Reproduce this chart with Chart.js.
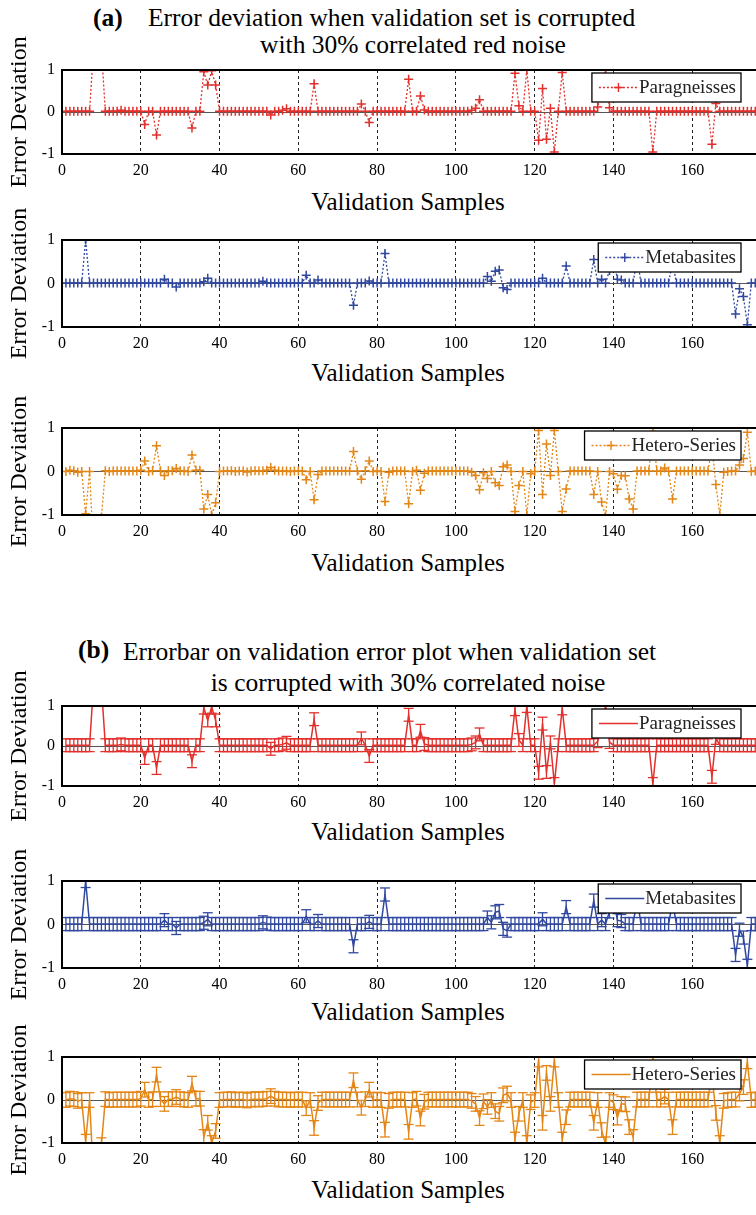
<!DOCTYPE html>
<html>
<head>
<meta charset="utf-8">
<script src="https://cdn.jsdelivr.net/npm/chart.js@4.4.1/dist/chart.umd.min.js"></script>
<style>
  html, body { margin: 0; padding: 0; background: #fff; overflow: hidden; }
  body { width: 756px; height: 1215px; position: relative; font-family: "Liberation Serif", "Times New Roman", serif; color: #000; }
  canvas { position: absolute; left: 0; }
  .ttl { position: absolute; white-space: nowrap; font-size: 25.5px; line-height: 30px; }
  .ctr { position: absolute; width: 600px; text-align: center; white-space: nowrap; }
  .ttl2 { font-size: 25.5px; line-height: 30px; }
  .xt { font-size: 25px; line-height: 30px; }
</style>
</head>
<body>
<!-- titles -->
<div class="ttl" style="left:93px;top:3px;font-weight:bold">(a)</div>
<div class="ttl" style="left:148px;top:3px">Error deviation when validation set is corrupted</div>
<div class="ctr ttl2" style="left:113px;top:30px">with 30% correlated red noise</div>
<div class="ttl" style="left:78px;top:635px;font-weight:bold">(b)</div>
<div class="ttl" style="left:123px;top:637px">Errorbar on validation error plot when validation set</div>
<div class="ctr ttl2" style="left:108px;top:668px">is corrupted with 30% correlated noise</div>

<div class="ctr xt" style="left:108px;top:187px">Validation Samples</div>
<div class="ctr xt" style="left:108px;top:358px">Validation Samples</div>
<div class="ctr xt" style="left:108px;top:548px">Validation Samples</div>
<div class="ctr xt" style="left:108px;top:817px">Validation Samples</div>
<div class="ctr xt" style="left:108px;top:997px">Validation Samples</div>
<div class="ctr xt" style="left:108px;top:1175px">Validation Samples</div>

<script>
const FONT = '"Liberation Serif", "Times New Roman", serif';

// sample index 1..177 (axis runs 0..180, picture is cut at the right)
const samples = Array.from({ length: 177 }, (_, i) => i + 1);

// error deviation per sample
const paragneisses = [
  0.02, 0.02, 0.02, 0.02, 0.02, 0.02, 0.02, 1.5, 1.7, 1.5,
  0.02, 0.02, 0.02, 0.02, 0.04, 0.02, 0.02, 0.02, 0.02, 0.02,
  -0.30, 0.02, 0.02, -0.55, 0.02, 0.02, 0.02, 0.02, 0.02, 0.02,
  0.02, 0.02, -0.38, 0.02, 0.02, 0.96, 0.64, 0.98, 0.64, 0.02,
  0.02, 0.02, 0.02, 0.02, 0.02, 0.02, 0.02, 0.02, 0.02, 0.02,
  0.02, 0.02, -0.07, 0.02, 0.02, 0.04, 0.08, 0.02, 0.02, 0.02,
  0.02, 0.02, 0.02, 0.67, 0.02, 0.02, 0.02, 0.02, 0.02, 0.02,
  0.02, 0.02, 0.02, 0.02, 0.02, 0.19, 0.02, -0.25, 0.02, 0.02,
  0.02, 0.02, 0.02, 0.02, 0.02, 0.02, 0.02, 0.78, 0.02, 0.02,
  0.38, 0.05, 0.02, 0.02, 0.02, 0.02, 0.02, 0.02, 0.02, 0.02,
  0.02, 0.02, 0.02, 0.04, 0.09, 0.29, 0.02, 0.02, 0.02, 0.02,
  0.02, 0.02, 0.02, 0.02, 0.92, 0.15, 0.02, 1.0, 0.02, 0.02,
  -0.67, 0.56, -0.65, 0.09, -0.95, 0.02, 0.94, 0.02, 0.02, 0.02,
  0.02, 0.02, 0.02, 0.02, 0.02, 0.12, 0.5, 1.0, 0.1, 0.02,
  0.02, 0.02, 0.02, 0.02, 0.02, 0.02, 0.02, 0.02, 0.02, -0.95,
  0.02, 0.02, 0.02, 0.02, 0.02, 0.02, 0.02, 0.02, 0.02, 0.02,
  0.02, 0.02, 0.02, 0.02, -0.77, 0.2, 0.02, 0.02, 0.02, 0.02,
  0.02, 0.02, 0.02, 0.02, 0.02, 0.02, 0.02
];
const metabasites = [
  0.01, 0.01, 0.01, 0.01, 0.01, 1.0, 0.01, 0.01, 0.01, 0.01,
  0.01, 0.01, 0.01, 0.01, 0.01, 0.01, 0.01, 0.01, 0.01, 0.01,
  0.01, 0.01, 0.01, 0.01, 0.01, 0.1, 0.01, 0.01, -0.08, 0.01,
  0.01, 0.01, 0.01, 0.01, 0.01, 0.04, 0.12, 0.01, 0.01, 0.01,
  0.01, 0.01, 0.01, 0.01, 0.01, 0.01, 0.01, 0.01, 0.01, 0.01,
  0.05, 0.02, 0.01, 0.01, 0.01, 0.01, 0.01, 0.01, 0.01, 0.01,
  0.01, 0.19, 0.01, 0.01, 0.08, 0.01, 0.01, 0.01, 0.01, 0.01,
  0.01, 0.01, 0.01, -0.5, 0.01, 0.01, 0.01, 0.06, 0.01, 0.01,
  0.01, 0.69, 0.01, 0.01, 0.01, 0.01, 0.01, 0.01, 0.01, 0.01,
  0.01, 0.01, 0.01, 0.01, 0.01, 0.01, 0.01, 0.01, 0.01, 0.01,
  0.01, 0.01, 0.01, 0.01, 0.01, 0.01, 0.01, 0.16, 0.05, 0.28,
  0.31, -0.1, -0.14, 0.01, 0.01, 0.01, 0.01, 0.01, 0.01, 0.01,
  0.01, 0.12, 0.01, 0.01, 0.01, 0.01, 0.01, 0.4, 0.01, 0.01,
  0.01, 0.01, 0.01, 0.01, 0.55, 0.01, 0.1, 0.01, 0.3, 0.6,
  0.1, 0.08, 0.01, 0.01, 0.01, 0.6, 0.01, 0.01, 0.01, 0.01,
  0.01, 0.01, 0.01, 0.01, 0.5, 0.01, 0.01, 0.01, 0.01, 0.01,
  0.01, 0.01, 0.01, 0.01, 0.01, 0.01, 0.01, 0.01, 0.01, 0.01,
  -0.7, -0.12, -0.3, -0.95, 0.01, 0.01, 0.01
];
const heteroSeries = [
  0.0, 0.03, 0.02, -0.02, 0.0, -0.97, 0.0, -1.8, -1.6, -1.05,
  0.02, 0.0, 0.01, 0.01, 0.01, 0.01, 0.01, 0.01, 0.01, 0.03,
  0.24, 0.0, 0.02, 0.59, 0.02, -0.09, 0.02, 0.02, 0.07, 0.02,
  0.01, 0.0, 0.38, 0.03, 0.03, -0.86, -0.53, -1.0, -0.72, 0.0,
  0.01, 0.01, 0.02, 0.0, 0.01, 0.01, -0.01, 0.01, 0.02, 0.01,
  0.02, 0.03, 0.09, 0.03, 0.01, 0.01, 0.01, 0.0, 0.01, 0.01,
  0.01, -0.19, 0.0, -0.65, -0.07, 0.01, 0.01, 0.01, 0.01, 0.01,
  0.01, 0.01, 0.01, 0.46, 0.01, -0.18, 0.02, 0.24, 0.0, 0.01,
  0.0, -0.69, -0.02, 0.01, 0.01, 0.01, 0.01, -0.74, 0.0, 0.03,
  -0.43, -0.04, 0.01, 0.01, 0.01, 0.01, 0.01, 0.01, 0.01, 0.01,
  0.01, 0.01, 0.01, -0.02, -0.09, -0.42, -0.03, -0.16, 0.0, -0.26,
  -0.32, 0.11, 0.15, 0.0, -0.92, -0.32, 0.0, -1.0, -0.05, 0.0,
  0.94, -0.53, 0.63, -0.09, 0.94, 0.0, -0.92, -0.4, 0.01, 0.01,
  0.01, 0.01, 0.01, 0.01, -0.53, 0.0, -0.7, -1.03, 0.0, -0.05,
  -0.41, -0.09, -0.1, -0.63, -0.86, 0.01, 0.01, 0.01, 0.01, 1.0,
  0.01, 0.01, 0.08, 0.01, -0.63, 0.01, 0.01, 0.01, 0.01, 0.01,
  0.01, 0.01, 0.01, 0.01, 0.6, -0.3, -1.0, -0.02, 0.0, 0.01,
  0.01, 0.15, 0.3, 0.9, 0.0, 0.01, 0.01
];

// half width of the error bars in panel (b)
const errParagneisses = 0.16;
const errMetabasites = 0.15;
const errHeteroSeries = 0.17;

const RED = 'rgb(226,48,44)';
const BLUE = 'rgb(48,72,160)';
const ORANGE = 'rgb(228,134,22)';

// box around the axes + legend on top of the data
const frameAndLegend = {
  id: 'frameAndLegend',
  afterDatasetsDraw(chart, args, opts) {
    const { ctx, chartArea: a } = chart;
    ctx.save();
    ctx.strokeStyle = '#000';
    ctx.lineWidth = 2;
    ctx.strokeRect(a.left, a.top, a.right - a.left, a.bottom - a.top);

    ctx.font = '19px ' + FONT;
    const tw = ctx.measureText(opts.text).width;
    const bw = tw + 52, bh = 29;
    const bx = a.right - 30 - bw, by = a.top + 3;
    ctx.fillStyle = '#fff';
    ctx.fillRect(bx, by, bw, bh);
    ctx.lineWidth = 1.3;
    ctx.strokeRect(bx, by, bw, bh);

    const my = by + bh / 2;
    ctx.strokeStyle = opts.color;
    ctx.lineWidth = 1.4;
    ctx.setLineDash(opts.dotted ? [2, 2] : []);
    ctx.beginPath();
    ctx.moveTo(bx + 7, my);
    ctx.lineTo(bx + 46, my);
    ctx.stroke();
    ctx.setLineDash([]);
    if (opts.dotted) {
      const mx = bx + 26.5;
      ctx.beginPath();
      ctx.moveTo(mx - 4.5, my); ctx.lineTo(mx + 4.5, my);
      ctx.moveTo(mx, my - 4.5); ctx.lineTo(mx, my + 4.5);
      ctx.stroke();
    }
    ctx.fillStyle = '#222';
    ctx.textBaseline = 'middle';
    ctx.textAlign = 'left';
    ctx.fillText(opts.text, bx + 47, my + 1);
    ctx.restore();
  }
};

const panels = [
  { top: 70, bottom: 154, values: paragneisses, err: null, label: 'Paragneisses', color: RED },
  { top: 240, bottom: 327, values: metabasites, err: null, label: 'Metabasites', color: BLUE },
  { top: 428, bottom: 515, values: heteroSeries, err: null, label: 'Hetero-Series', color: ORANGE },
  { top: 706, bottom: 786, values: paragneisses, err: errParagneisses, label: 'Paragneisses', color: RED },
  { top: 881, bottom: 968, values: metabasites, err: errMetabasites, label: 'Metabasites', color: BLUE },
  { top: 1057, bottom: 1143, values: heteroSeries, err: errHeteroSeries, label: 'Hetero-Series', color: ORANGE }
];

function makePanel(p) {
  const padTop = 60, axisH = 40, W = 790;
  const H = (p.bottom - p.top) + padTop + axisH;
  const cv = document.createElement('canvas');
  cv.width = W; cv.height = H;
  cv.style.width = W + 'px'; cv.style.height = H + 'px';
  cv.style.top = (p.top - padTop) + 'px';
  document.body.appendChild(cv);

  const points = p.values.map((v, i) => ({ x: samples[i], y: v }));
  const dotted = p.err === null;
  const datasets = [];

  if (dotted) {
    datasets.push({
      data: points, borderColor: p.color, borderWidth: 1.3, borderDash: [2, 2],
      pointStyle: 'cross', pointRadius: 4.5, pointBorderWidth: 1.5,
      pointBorderColor: p.color, tension: 0, fill: false, clip: 0
    });
  } else {
    const stems = [], caps = [];
    p.values.forEach((v, i) => {
      stems.push({ x: samples[i], y: v - p.err }, { x: samples[i], y: v + p.err }, { x: samples[i], y: null });
      caps.push({ x: samples[i], y: v - p.err }, { x: samples[i], y: v + p.err });
    });
    datasets.push({
      data: points, borderColor: p.color, borderWidth: 1.5, pointRadius: 0,
      tension: 0, fill: false, clip: 0
    });
    datasets.push({
      data: stems, borderColor: p.color, borderWidth: 1.3, pointRadius: 0,
      spanGaps: false, fill: false, clip: 0
    });
    datasets.push({
      data: caps, showLine: false, pointStyle: 'line', pointRadius: 5,
      pointBorderWidth: 1.3, borderColor: p.color, pointBorderColor: p.color, clip: 0
    });
  }

  new Chart(cv.getContext('2d'), {
    type: 'line',
    data: { datasets: datasets },
    options: {
      responsive: false,
      animation: false,
      events: [],
      layout: { padding: { top: padTop, right: 17, left: 0, bottom: 0 } },
      plugins: {
        legend: { display: false },
        tooltip: { enabled: false },
        frameAndLegend: { text: p.label, color: p.color, dotted: dotted }
      },
      scales: {
        x: {
          type: 'linear', min: 0, max: 180,
          afterFit: s => { s.height = axisH; },
          ticks: { stepSize: 20, padding: 7, autoSkip: false, maxRotation: 0, color: '#000', font: { family: FONT, size: 16 } },
          grid: {
            drawTicks: false, lineWidth: 1,
            color: c => (c.tick && c.tick.value > 0 && c.tick.value < 180) ? '#222' : 'rgba(0,0,0,0)'
          },
          border: { display: false, dash: [3, 3] }
        },
        y: {
          min: -1, max: 1,
          afterFit: s => { s.width = 62; },
          ticks: { stepSize: 1, padding: 7, color: '#000', font: { family: FONT, size: 16 } },
          grid: {
            drawTicks: false, lineWidth: 1,
            color: c => (c.tick && c.tick.value === 0) ? '#555' : 'rgba(0,0,0,0)'
          },
          border: { display: false },
          title: { display: true, text: 'Error Deviation', color: '#000', font: { family: FONT, size: 24 }, padding: { top: 5, bottom: 0 } }
        }
      }
    },
    plugins: [frameAndLegend]
  });
}

panels.forEach(makePanel);
</script>
</body>
</html>
